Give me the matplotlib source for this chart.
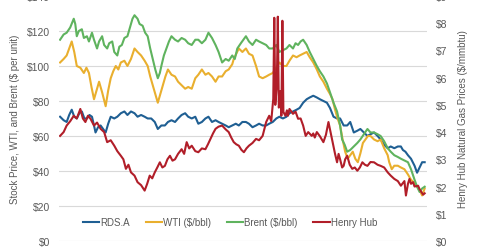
import numpy as np
import matplotlib
matplotlib.use("Agg")
import matplotlib.pyplot as plt
from matplotlib.ticker import FuncFormatter

plt.rcParams['font.family'] = ['Liberation Sans', 'DejaVu Sans']

# trading-day index and values
brent_day = [0, 7, 13, 20, 27, 30, 33, 37, 43, 47, 53, 57, 63, 67, 73, 77, 83, 87, 93, 97, 103,
             107, 113, 117, 122, 127, 133, 137, 143, 147, 153, 157, 163, 168, 173, 178, 183,
             188, 193, 197, 200, 205, 210, 215, 220, 227, 233, 240, 247, 253, 260, 267, 273, 280,
             287, 293, 300, 307, 313, 320, 327, 333, 340, 345, 350, 357, 367, 373, 380, 387, 393,
             400, 407, 413, 420, 427, 433, 440, 447, 453, 460, 465, 470, 475, 480, 487, 493, 500,
             507, 513, 520, 527, 533, 540, 547, 553, 557, 562, 567, 573, 580, 587, 593, 600, 607,
             613, 620, 627, 633, 640, 647, 653, 660, 667, 673, 680, 687, 693, 700, 705, 710, 715,
             720]
brent = [115, 118, 119, 122, 127, 124, 117, 120, 121, 116, 117, 114, 119, 115, 110, 114, 117, 112,
         110, 113, 114, 108, 106, 111, 112, 116, 117, 121, 127, 129, 127, 124, 123, 119, 117, 110,
         104, 98, 93, 96, 100, 106, 110, 114, 117, 115, 114, 116, 115, 113, 112, 115, 115, 113,
         115, 119, 116, 112, 108, 102, 104, 103, 106, 104, 110, 113, 117, 114, 112, 115, 114,
         113, 112, 110, 110, 112, 108, 109, 110, 112, 110, 113, 112, 114, 115, 112, 108, 104,
         100, 97, 94, 90, 85, 79, 74, 66, 58, 55, 51, 52, 54, 56, 58, 61, 64, 62, 62, 61, 60, 57,
         53, 51, 49, 48, 47, 46, 45, 41, 35, 31, 28, 30, 31]

wti_day = [0, 7, 13, 18, 23, 28, 33, 40, 47, 52, 57, 62, 67, 72, 77, 83, 90, 95, 100, 105, 110,
           115, 120, 127, 133, 140, 147, 153, 160, 167, 173, 178, 183, 188, 193, 198, 203, 208,
           213, 220, 227, 233, 240, 247, 253, 260, 267, 273, 280, 287, 293, 300, 307, 313, 320,
           327, 333, 340, 343, 348, 353, 360, 367, 373, 380, 387, 393, 400, 407, 413, 420, 427,
           433, 440, 447, 453, 460, 467, 473, 480, 487, 493, 500, 507, 513, 520, 527, 533, 538,
           543, 548, 553, 558, 563, 568, 573, 578, 583, 588, 593, 598, 603, 608, 613, 620, 627,
           633, 640, 647, 650, 655, 660, 667, 673, 680, 687, 693, 700, 705, 710, 715, 720]
wti = [102, 104, 106, 110, 114, 108, 100, 99, 96, 99, 96, 88, 81, 86, 91, 85, 77, 86, 93, 97,
       100, 98, 102, 103, 100, 104, 110, 108, 106, 103, 100, 94, 89, 84, 79, 84, 89, 94, 98,
       95, 94, 91, 89, 87, 88, 87, 93, 95, 98, 95, 96, 94, 91, 94, 94, 97, 98, 101, 104,
       107, 110, 108, 110, 107, 106, 100, 94, 93, 94, 95, 96, 99, 102, 100, 100, 103, 106,
       105, 106, 107, 108, 105, 102, 98, 94, 91, 87, 84, 81, 75, 70, 66, 58, 51, 47, 49, 51,
       47, 45, 50, 56, 58, 60, 60, 58, 57, 58, 53, 49, 45, 41, 43, 43, 42, 41, 38, 35, 33, 31,
       29, 26, 30]

rds_day = [0, 7, 13, 18, 23, 28, 33, 38, 43, 48, 53, 58, 63, 67, 70, 75, 80, 85, 90, 95, 100,
           107, 113, 120, 127, 133, 140, 147, 153, 160, 167, 173, 180, 187, 193, 200, 207, 213,
           220, 227, 233, 240, 247, 253, 260, 267, 273, 280, 287, 293, 300, 307, 313, 320, 327,
           333, 340, 347, 353, 360, 367, 373, 380, 387, 393, 400, 407, 413, 420, 427, 433, 440,
           447, 453, 460, 467, 473, 480, 487, 493, 500, 507, 513, 520, 527, 533, 540, 547, 553,
           560, 567, 573, 580, 587, 593, 600, 607, 613, 620, 627, 633, 640, 647, 653, 660, 667,
           673, 677, 682, 687, 693, 700, 705, 710, 715, 720]
rds = [71, 69, 68, 72, 75, 71, 70, 73, 74, 70, 70, 72, 71, 66, 62, 65, 66, 64, 62, 67, 71, 70,
       71, 73, 74, 72, 74, 73, 71, 72, 71, 70, 70, 68, 64, 66, 66, 68, 69, 68, 70, 72, 73, 71,
       70, 71, 67, 68, 70, 71, 68, 69, 68, 67, 66, 65, 66, 67, 66, 68, 68, 67, 65, 66, 67, 66,
       66, 67, 68, 70, 71, 70, 71, 73, 74, 75, 76, 79, 81, 82, 83, 82, 81, 80, 79, 76, 71, 70,
       70, 66, 66, 68, 62, 63, 64, 62, 60, 61, 62, 60, 58, 55, 53, 54, 53, 54, 54, 52, 51,
       49, 47, 43, 39, 42, 45, 45]

hh_day = [0, 7, 13, 20, 27, 33, 40, 45, 50, 55, 60, 67, 73, 80, 87, 93, 100, 107, 113, 120, 125,
          130, 135, 140, 147, 153, 160, 167, 172, 177, 182, 187, 192, 197, 202, 207, 212, 217,
          222, 227, 233, 240, 245, 250, 255, 260, 267, 273, 280, 287, 292, 297, 302, 307, 313,
          320, 327, 333, 338, 343, 348, 353, 358, 363, 368, 373, 380, 387, 393, 400, 407, 413,
          417, 421, 423, 425, 428, 430, 432, 435, 437, 439, 441, 445, 448, 450, 453, 460, 465,
          470, 475, 480, 485, 490, 497, 500, 503, 507, 513, 520, 525, 530, 537, 543, 547, 550,
          553, 557, 560, 563, 567, 572, 577, 582, 587, 592, 597, 602, 607, 613, 620, 627, 633,
          640, 647, 653, 660, 667, 673, 680, 683, 687, 690, 693, 697, 700, 707, 710,
          717, 720]
henry_hub = [3.86, 4.0, 4.24, 4.4, 4.6, 4.5, 4.85, 4.5, 4.37, 4.6, 4.49, 4.24, 4.35, 4.12, 4.0,
             3.63, 3.7, 3.5, 3.3, 3.13, 3.0, 2.65, 2.8, 2.52, 2.4, 2.16, 2.05, 1.85, 2.1, 2.4, 2.3,
             2.52, 2.7, 2.89, 2.7, 2.76, 3.0, 3.13, 2.95, 3.0, 3.2, 3.37, 3.2, 3.63, 3.4, 3.5,
             3.3, 3.26, 3.4, 3.37, 3.55, 3.75, 3.95, 4.12, 4.2, 4.24, 4.1, 4.0, 3.8, 3.63, 3.55,
             3.5, 3.35, 3.26, 3.4, 3.5, 3.6, 3.75, 3.7, 3.86, 4.37, 4.6, 4.4, 5.22, 8.2, 5.0,
             5.7, 8.24, 4.9, 5.5, 4.6, 8.09, 4.74, 4.6, 4.8, 4.6, 4.85, 4.67, 4.75, 4.49, 4.5,
             4.24, 3.86, 4.0, 3.86, 3.95, 3.8, 4.0, 3.85, 3.63, 3.9, 4.37, 3.75, 3.2, 2.89, 3.2,
             3.0, 2.7, 2.76, 3.0, 3.13, 2.8, 2.65, 2.7, 2.58, 2.7, 2.89, 2.8, 2.76, 2.9, 2.89,
             2.8, 2.76, 2.7, 2.52, 2.4, 2.28, 2.2, 2.03, 2.2, 1.67, 2.1, 2.28, 2.1, 2.16, 2.0,
             2.03, 1.9, 1.7, 1.75]

left_ticks = [0, 20, 40, 60, 80, 100, 120, 140]
right_ticks = [0, 1, 2, 3, 4, 5, 6, 7, 8, 9]

c_rds = '#1F5F93'
c_wti = '#E9AF2E'
c_brent = '#5FB35E'
c_hh = '#B11E29'
grey = '#595959'

fig = plt.figure(figsize=(4.8, 2.51), dpi=100)
ax = fig.add_axes([0.122, 0.036, 0.768, 0.976])
ax2 = ax.twinx()

l1, = ax.plot(rds_day, rds, color=c_rds, lw=1.5, label='RDS.A')
l2, = ax.plot(wti_day, wti, color=c_wti, lw=1.5, label='WTI (\\$/bbl)')
l3, = ax.plot(brent_day, brent, color=c_brent, lw=1.5, label='Brent (\\$/bbl)')
l4, = ax2.plot(hh_day, henry_hub, color=c_hh, lw=1.5, label='Henry Hub')

ax.set_xlim(-3, 725)
ax.set_ylim(0, 140)
ax2.set_ylim(0, 9)
ax.set_yticks(left_ticks)
ax2.set_yticks(right_ticks)
ax.yaxis.set_major_formatter(FuncFormatter(lambda v, p: '\\$%d' % v))
ax2.yaxis.set_major_formatter(FuncFormatter(lambda v, p: '\\$%d' % v))
ax.grid(axis='y', color='#D9D9D9', lw=0.8)
ax.set_axisbelow(True)
ax.set_xticks([])

for a in (ax, ax2):
    for s in a.spines.values():
        s.set_visible(False)
    a.tick_params(axis='y', length=0, labelsize=7.5, labelcolor=grey, pad=6)

ax.set_ylabel('Stock Price, WTI, and Brent (\\$ per unit)', fontsize=7, color=grey, labelpad=5)
ax2.set_ylabel('Henry Hub Natural Gas Prices (\\$/mmbtu)', fontsize=7, color=grey, labelpad=8)

leg = ax.legend(handles=[l1, l2, l3, l4], loc='center', bbox_to_anchor=(0.465, 0.076), ncol=4,
                frameon=False, fontsize=7, handlelength=1.7, handletextpad=0.1, columnspacing=1.6)
for t in leg.get_texts():
    t.set_color(grey)

fig.savefig('out.png', dpi=100)
